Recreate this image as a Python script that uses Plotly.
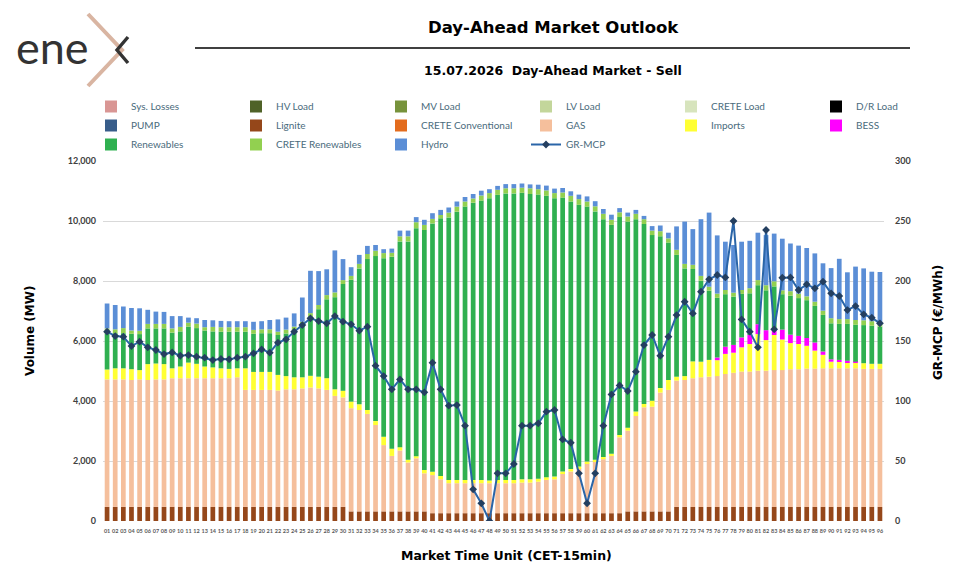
import plotly.graph_objects as go

# ---------------- data ----------------
mtu = ["%02d" % i for i in range(1, 97)]

lignite = [470, 470, 470, 470, 470, 470, 470, 470, 470, 470, 470, 470, 470, 470, 470, 470, 470,
           470, 470, 470, 470, 470, 470, 470, 470, 470, 470, 470, 470, 470,
           320, 320, 320, 320, 320, 320, 320, 320, 320, 320,
           260, 260, 260, 260, 260, 260, 260, 260, 260, 260, 260, 260, 260, 260, 260, 260, 260, 260, 260, 260, 260, 260, 260, 260,
           320, 320, 320, 320, 320, 320,
           470, 470, 470, 470, 470, 470, 470, 470, 470, 470, 470, 470, 470, 470, 470, 470, 470, 470, 470, 470, 470, 470, 470, 470, 470, 470]

gas = [4250, 4250, 4250, 4230, 4250, 4230, 4250, 4250, 4290, 4290, 4290, 4290, 4290, 4290, 4290, 4290, 4320,
       3900, 3900, 3900, 3900, 3880, 3920, 3920, 3950, 3980, 3950, 3900, 3700, 3650,
       3440, 3380, 3250, 2880, 2210, 1850, 2030, 1630, 1770, 1270,
       1270, 1130, 1000, 1000, 1000, 1000, 1000, 1000, 1000, 1000, 1000, 1020, 1020, 1050, 1110, 1130, 1330, 1390, 1500, 1660, 1720, 1800, 1910, 2530,
       2690, 3180, 3470, 3490, 3960, 4050,
       4210, 4230, 4290, 4320, 4340, 4360, 4430, 4470, 4510, 4510, 4540, 4540, 4560, 4560, 4590, 4590, 4610, 4610, 4620, 4620, 4620, 4620, 4620, 4600, 4600, 4600]

imports = [330, 370, 370, 360, 310, 530, 530, 510, 330, 390, 520, 480, 390, 360, 330, 310, 300,
           720, 600, 600, 600, 520, 440, 400, 370, 390, 390, 390, 220, 220,
           220, 190, 130, 130, 280, 240, 110, 90, 70, 110,
           110, 110, 110, 110, 110, 110, 110, 90, 110, 110, 110, 110, 110, 100, 90, 90, 60, 80, 60, 60, 60, 70, 70, 80,
           100, 150, 110, 200, 150, 330,
           130, 130, 560, 520, 560, 530, 670, 670, 810, 920, 1220, 1020, 1170, 1020, 870, 840, 760, 600, 450, 220, 210, 190, 180, 190, 170, 170]

bess = [0, 0, 0, 0, 0, 0, 0, 0, 0, 0, 0, 0, 0, 0, 0, 0, 0,
        0, 0, 0, 0, 0, 0, 0, 0, 0, 0, 0, 0, 0,
        0, 0, 0, 0, 0, 0, 0, 0, 0, 0,
        0, 0, 0, 0, 0, 0, 0, 0, 0, 0, 0, 0, 0, 0, 0, 0, 0, 0, 0, 0, 0, 0, 0, 0,
        0, 0, 0, 0, 0, 0,
        0, 0, 0, 0, 0, 90, 240, 260, 330, 300, 330, 330, 150, 330, 280, 270, 260, 270, 110, 80, 70, 60, 40, 0, 0, 0]

renewables = [1200, 1170, 1170, 1180, 1200, 1190, 1170, 1190, 1190, 1170, 1200, 1190, 1200, 1200, 1220, 1240, 1220,
              1220, 1270, 1290, 1290, 1330, 1420, 1600, 1740, 1980, 2250, 2630, 3070, 3560,
              4060, 4530, 5030, 5500, 5950, 6400, 6860, 7280, 7600, 8000,
              8280, 8590, 8750, 8940, 9110, 9240, 9310, 9410, 9500, 9550, 9550, 9550, 9510, 9470, 9380, 9280, 9130, 8920, 8720, 8500, 8280, 7930, 7630, 7260,
              6870, 6410, 6000, 5520, 5060, 4580,
              4060, 3590, 3080, 2700, 2310, 1990, 1750, 1610, 1450, 1390, 1300, 1330, 1470, 1180, 1300, 1260, 1260, 1220, 1220, 1200, 1200, 1230, 1230, 1270, 1270, 1240]

crete_ren = [170, 130, 170, 110, 110, 150, 150, 150, 140, 150, 130, 150, 110, 150, 150, 150, 150,
             150, 130, 130, 130, 110, 130, 90, 110, 110, 140, 140, 160, 130,
             130, 150, 170, 180, 170, 130, 170, 170, 200, 170,
             150, 110, 160, 170, 170, 140, 170, 170, 170, 170, 170, 170, 190, 180, 180, 170, 170, 190, 190, 170, 170, 180, 170, 160,
             170, 180, 160, 150, 170, 140,
             170, 150, 140, 160, 130, 140, 140, 130, 130, 170, 170, 170, 170, 130, 150, 150, 130, 140, 140, 170, 160, 160, 160, 160, 150, 130]

hydro = [830, 810, 720, 750, 750, 470, 410, 400, 410, 360, 170, 180, 240, 220, 210, 200, 200,
         200, 270, 270, 310, 410, 400, 440, 810, 1410, 1130, 860, 1400, 700,
         290, 300, 270, 190, 130, 140, 190, 190, 170, 170,
         190, 170, 170, 170, 150, 150, 160, 130, 130, 140, 140, 140, 130, 150, 160, 150, 150, 150, 150, 170, 170, 160, 170, 140,
         130, 130, 110, 150, 190, 190,
         780, 1410, 1190, 1890, 2470, 1940, 1610, 1590, 1610, 1580, 1580, 1670, 1590, 1720, 1590, 1600, 1610, 1610, 1580, 1670, 2010, 1560, 1780, 1730, 1650, 1690]

gr_mcp = [157.8, 154.1, 153.6, 145.8, 149.4, 144.7, 142.5, 139.1, 140.5, 137.7, 138.3, 136.9, 136.1, 134.1, 135.0, 134.7,
          136.1, 136.9, 139.7, 143.0, 140.3, 148.6, 151.4, 157.8, 163.3, 168.9, 166.6, 164.7, 170.8, 166.1, 163.9, 158.6, 161.9,
          129.4, 120.8, 109.7, 118.0, 109.7, 109.7, 107.2, 131.9, 109.7, 96.1, 96.6, 79.4, 26.4, 14.7,
          0.0, 39.7, 39.7, 47.5, 79.4, 79.4, 81.4, 91.1, 92.5, 68.0, 65.2, 39.7, 14.7, 39.7, 79.4, 105.5,
          113.0, 108.3, 124.4, 146.6, 155.0, 137.7, 153.6, 171.6, 182.7, 173.0, 191.1, 201.4, 205.0, 203.0, 250.0, 168.0,
          157.8, 144.7, 242.5, 159.7, 202.7, 203.0, 192.5, 197.2, 193.9, 199.4, 189.7, 187.5, 175.8, 179.1, 172.2, 169.4, 164.7]

no_flow = [0] * 96  # series that carry no volume on this day

y_ticks = [0, 2000, 4000, 6000, 8000, 10000, 12000]
y2_ticks = [0, 50, 100, 150, 200, 250, 300]

# ---------------- layout helpers ----------------
W, H = 970, 576
L, R, T, B = 103, 86, 161, 55
PW, PH = W - L - R, H - T - B


def P(px, py):
    return (px - L) / PW, (H - B - py) / PH


FONT = "Lato, 'DejaVu Sans', sans-serif"
TFONT = "'DejaVu Sans', sans-serif"

series = [
    ("Sys. Losses", no_flow, "#D99694"),
    ("HV Load", no_flow, "#4F6228"),
    ("MV Load", no_flow, "#77933C"),
    ("LV Load", no_flow, "#C3D69B"),
    ("CRETE Load", no_flow, "#D7E4BD"),
    ("D/R Load", no_flow, "#000000"),
    ("PUMP", no_flow, "#385D8A"),
    ("Lignite", lignite, "#95471A"),
    ("CRETE Conventional", no_flow, "#E36C1E"),
    ("GAS", gas, "#F5BF9C"),
    ("Imports", imports, "#FFFF33"),
    ("BESS", bess, "#FF00FF"),
    ("Renewables", renewables, "#2FB050"),
    ("CRETE Renewables", crete_ren, "#92D050"),
    ("Hydro", hydro, "#5B8ED6"),
]

fig = go.Figure()
for name, vals, col in series:
    fig.add_trace(go.Bar(x=mtu, y=vals, name=name, marker=dict(color=col, line=dict(width=0))))

fig.add_trace(go.Scatter(x=mtu, y=gr_mcp, name="GR-MCP", yaxis="y2", mode="lines+markers",
                         line=dict(color="#2A65A8", width=2),
                         marker=dict(symbol="diamond", size=6, color="#243F60")))

lx, ly = P(91, 92)
fig.update_layout(
    width=W, height=H,
    margin=dict(l=L, r=R, t=T, b=B),
    paper_bgcolor="white", plot_bgcolor="white",
    barmode="relative", bargap=0.42,
    font=dict(family=FONT, color="#404040"),
    showlegend=True,
    legend=dict(orientation="h", x=lx, y=ly, xanchor="left", yanchor="top",
                entrywidth=100, entrywidthmode="pixels", traceorder="normal",
                font=dict(family=FONT, size=10, color="#4A6B7C"), bgcolor="rgba(0,0,0,0)"),
    xaxis=dict(type="category", tickmode="array", tickvals=mtu, ticktext=mtu, tickangle=0,
               tickfont=dict(size=5.5, color="#595959", family=FONT, weight="bold"),
               showgrid=False, showline=False, ticks="", range=[-0.5, 95.5],
               ticklabelstandoff=5),
    yaxis=dict(range=[0, 12000], tickmode="array", tickvals=y_ticks, tickformat=",",
               gridcolor="#D9D9D9", gridwidth=1, zeroline=False, showline=False, ticks="",
               ticklabelstandoff=6,
               tickfont=dict(size=9, color="#404040", family=FONT, weight="bold")),
    yaxis2=dict(range=[0, 300], tickmode="array", tickvals=y2_ticks, overlaying="y", side="right",
                showgrid=False, zeroline=False, showline=False, ticks="",
                ticklabelstandoff=10,
                tickfont=dict(size=9, color="#404040", family=FONT, weight="bold")),
)

# Axis titles
ax_font = dict(family=TFONT, size=12.5, color="#000000", weight="bold")
a, b = P(506, 555)
fig.add_annotation(x=a, y=b, xref="paper", yref="paper", showarrow=False,
                   text="Market Time Unit (CET-15min)", xanchor="center", yanchor="middle", font=ax_font)
a, b = P(30, 331)
fig.add_annotation(x=a, y=b, xref="paper", yref="paper", showarrow=False, textangle=-90,
                   text="Volume (MW)", xanchor="center", yanchor="middle",
                   font=dict(family=TFONT, size=12, color="#000000", weight="bold"))
a, b = P(938, 323)
fig.add_annotation(x=a, y=b, xref="paper", yref="paper", showarrow=False, textangle=-90,
                   text="GR-MCP (€/MWh)", xanchor="center", yanchor="middle",
                   font=dict(family=TFONT, size=12, color="#000000", weight="bold"))

# Titles
tx, ty = P(553, 27)
fig.add_annotation(x=tx, y=ty, xref="paper", yref="paper", showarrow=False,
                   text="Day-Ahead Market Outlook", xanchor="center", yanchor="middle",
                   font=dict(family=TFONT, size=16.5, color="#000000", weight="bold"))
sx, sy = P(553, 70)
fig.add_annotation(x=sx, y=sy, xref="paper", yref="paper", showarrow=False,
                   text="15.07.2026  Day-Ahead Market - Sell", xanchor="center", yanchor="middle",
                   font=dict(family=TFONT, size=12.5, color="#000000", weight="bold"))
x0, y0 = P(195, 48)
x1, _ = P(910, 48)
fig.add_shape(type="line", xref="paper", yref="paper", x0=x0, x1=x1, y0=y0, y1=y0,
              line=dict(color="#000000", width=1.3))

# Logo "enex"
ex, ey = P(52, 47)
fig.add_annotation(x=ex, y=ey, xref="paper", yref="paper", showarrow=False,
                   text="ene", xanchor="center", yanchor="middle",
                   font=dict(family=FONT, size=45, color="#333333"))


def path(points):
    segs = []
    for i, (px, py) in enumerate(points):
        a, b = P(px, py)
        segs.append(("M" if i == 0 else "L") + "%.5f,%.5f" % (a, b))
    return " ".join(segs)


fig.add_shape(type="path", xref="paper", yref="paper",
              path=path([(88, 14), (122, 50), (88, 86)]),
              line=dict(color="#D9B5A2", width=4), fillcolor="rgba(0,0,0,0)")
fig.add_shape(type="path", xref="paper", yref="paper",
              path=path([(128, 37), (117, 50), (128, 63)]),
              line=dict(color="#333333", width=3.4), fillcolor="rgba(0,0,0,0)")

fig.write_html("out.html")
